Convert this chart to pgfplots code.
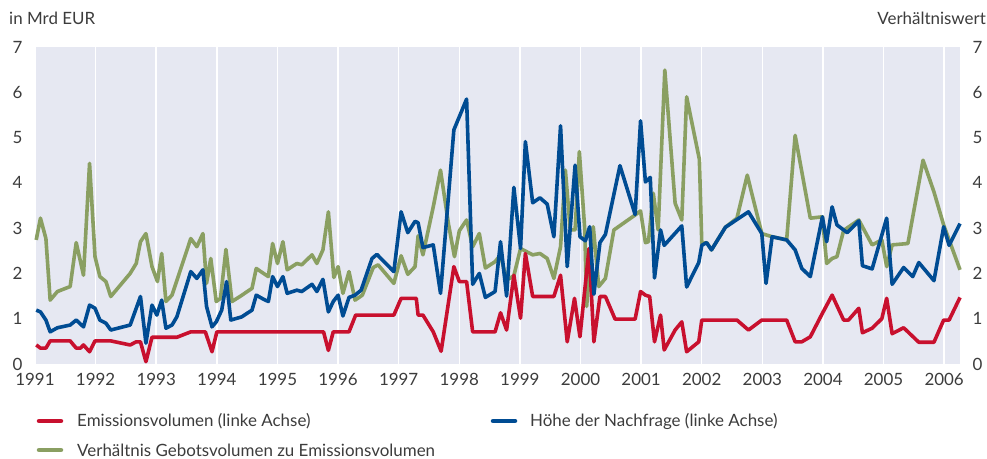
\documentclass[border=0pt]{standalone}
\usepackage{fontspec}
\setmainfont{Lato}
\usepackage{pgfplots}
\usepackage{pgfplotstable}
\pgfplotsset{compat=1.18}
\definecolor{bgc}{RGB}{230,232,242}
\definecolor{cred}{RGB}{200,16,46}
\definecolor{cblue}{RGB}{0,76,147}
\definecolor{cgreen}{RGB}{138,159,98}
\definecolor{txt}{RGB}{60,60,60}

\pgfplotstableread{
x y
1991.02 0.42
1991.09 0.35
1991.18 0.35
1991.25 0.51
1991.58 0.51
1991.68 0.35
1991.75 0.35
1991.80 0.42
1991.90 0.27
1991.99 0.51
1992.25 0.51
1992.57 0.42
1992.67 0.49
1992.74 0.49
1992.83 0.05
1992.93 0.59
1993.34 0.59
1993.57 0.71
1993.81 0.71
1993.92 0.27
1994.00 0.71
1995.76 0.71
1995.84 0.30
1995.92 0.71
1996.18 0.71
1996.29 1.08
1996.92 1.08
1997.04 1.45
1997.29 1.45
1997.32 1.08
1997.40 1.08
1997.57 0.71
1997.70 0.28
1997.91 2.15
1998.00 1.82
1998.12 1.82
1998.22 0.71
1998.59 0.71
1998.68 1.13
1998.78 0.75
1998.90 1.96
1999.01 1.01
1999.09 2.44
1999.21 1.49
1999.56 1.49
1999.67 1.96
1999.78 0.49
1999.90 1.45
1999.99 0.60
2000.14 2.55
2000.22 0.49
2000.32 1.49
2000.41 1.49
2000.57 0.99
2000.90 0.99
2000.99 1.60
2001.07 1.52
2001.14 1.49
2001.22 0.49
2001.32 1.08
2001.38 0.31
2001.56 0.75
2001.67 0.93
2001.75 0.27
2001.95 0.49
2002.00 0.97
2002.58 0.97
2002.77 0.75
2002.99 0.97
2003.40 0.97
2003.54 0.49
2003.65 0.49
2003.79 0.60
2003.99 1.12
2004.15 1.52
2004.34 0.97
2004.42 0.97
2004.59 1.23
2004.65 0.69
2004.81 0.79
2004.97 1.00
2005.05 1.45
2005.14 0.67
2005.33 0.80
2005.58 0.48
2005.83 0.48
2005.99 0.97
2006.08 0.97
2006.26 1.47
}\emission

\pgfplotstableread{
x y
1991.02 1.19
1991.09 1.15
1991.18 0.97
1991.25 0.71
1991.37 0.80
1991.58 0.86
1991.68 0.97
1991.80 0.82
1991.90 1.30
1991.99 1.23
1992.07 0.97
1992.17 0.90
1992.25 0.75
1992.57 0.86
1992.74 1.49
1992.83 0.46
1992.93 1.30
1993.01 1.08
1993.09 1.41
1993.16 0.79
1993.26 0.86
1993.34 1.04
1993.57 2.04
1993.67 1.89
1993.77 2.08
1993.83 1.27
1993.92 0.82
1993.99 0.93
1994.08 1.19
1994.16 1.82
1994.23 0.97
1994.41 1.04
1994.58 1.19
1994.65 1.52
1994.77 1.43
1994.85 1.38
1994.92 1.93
1995.00 1.71
1995.09 1.93
1995.16 1.56
1995.32 1.63
1995.40 1.60
1995.57 1.76
1995.65 1.60
1995.75 1.87
1995.84 1.15
1995.92 1.38
1996.00 1.52
1996.08 1.06
1996.18 1.47
1996.28 1.52
1996.38 1.63
1996.56 2.33
1996.64 2.42
1996.92 2.04
1997.04 3.36
1997.15 2.90
1997.27 3.15
1997.32 3.12
1997.40 2.57
1997.57 2.63
1997.69 1.56
1997.91 5.17
1998.00 5.46
1998.12 5.85
1998.22 1.76
1998.33 2.00
1998.43 1.47
1998.59 1.60
1998.68 2.70
1998.78 1.50
1998.90 3.90
1999.01 2.55
1999.09 4.91
1999.21 3.56
1999.33 3.67
1999.45 3.53
1999.56 2.81
1999.67 5.26
1999.78 2.15
1999.91 4.39
1999.99 2.81
2000.08 2.72
2000.15 3.03
2000.22 1.54
2000.32 2.68
2000.41 2.86
2000.65 4.38
2000.90 3.30
2000.99 5.37
2001.07 4.02
2001.15 4.12
2001.22 1.90
2001.32 2.96
2001.38 2.62
2001.67 3.05
2001.75 1.70
2001.95 2.24
2002.00 2.62
2002.08 2.68
2002.16 2.52
2002.39 3.02
2002.77 3.36
2002.99 2.88
2003.06 1.78
2003.16 2.81
2003.40 2.74
2003.54 2.52
2003.65 2.11
2003.79 1.93
2003.99 3.25
2004.06 2.70
2004.15 3.47
2004.23 3.07
2004.40 2.90
2004.59 3.16
2004.65 2.17
2004.81 2.10
2005.05 3.22
2005.14 1.76
2005.33 2.13
2005.48 1.93
2005.58 2.24
2005.83 1.84
2005.99 3.03
2006.08 2.62
2006.26 3.10
}\nachfrage

\pgfplotstableread{
x y
1991.02 2.74
1991.09 3.22
1991.18 2.77
1991.25 1.41
1991.37 1.60
1991.58 1.71
1991.68 2.68
1991.80 1.96
1991.90 4.43
1991.99 2.37
1992.07 1.93
1992.17 1.82
1992.25 1.49
1992.57 2.00
1992.67 2.22
1992.74 2.70
1992.83 2.88
1992.93 2.15
1993.02 1.82
1993.09 2.44
1993.16 1.38
1993.26 1.52
1993.57 2.77
1993.67 2.59
1993.77 2.88
1993.83 1.78
1993.90 2.33
1993.99 1.38
1994.06 1.45
1994.15 2.53
1994.25 1.38
1994.38 1.49
1994.58 1.67
1994.65 2.11
1994.77 2.00
1994.85 1.93
1994.92 2.66
1995.00 2.22
1995.09 2.70
1995.16 2.08
1995.32 2.22
1995.40 2.19
1995.57 2.41
1995.65 2.22
1995.75 2.52
1995.84 3.36
1995.93 1.91
1996.00 2.15
1996.08 1.56
1996.18 2.04
1996.28 1.41
1996.40 1.52
1996.58 2.13
1996.66 2.19
1996.92 1.78
1997.04 2.39
1997.15 1.98
1997.27 2.15
1997.32 2.83
1997.40 2.41
1997.57 3.47
1997.69 4.28
1997.82 3.10
1997.92 2.37
1998.00 2.94
1998.12 3.18
1998.22 2.59
1998.33 2.88
1998.43 2.12
1998.59 2.26
1998.68 2.41
1998.78 1.85
1998.90 1.95
1999.01 2.55
1999.21 2.41
1999.33 2.44
1999.45 2.33
1999.56 1.89
1999.67 2.59
1999.75 4.28
1999.83 2.96
1999.91 2.96
1999.98 4.69
2000.07 2.96
2000.10 1.27
2000.21 3.03
2000.30 1.71
2000.41 1.89
2000.55 2.96
2000.90 3.29
2000.99 3.38
2001.07 2.68
2001.12 2.70
2001.20 3.77
2001.28 2.96
2001.39 6.49
2001.56 3.55
2001.67 3.18
2001.75 5.90
2001.96 4.52
2002.00 2.66
2002.08 2.68
2002.16 2.52
2002.39 3.02
2002.58 3.22
2002.75 4.17
2002.99 2.88
2003.16 2.81
2003.40 2.74
2003.54 5.05
2003.79 3.22
2003.99 3.25
2004.06 2.22
2004.15 2.33
2004.23 2.37
2004.34 2.95
2004.59 3.18
2004.81 2.63
2004.97 2.74
2005.05 2.15
2005.14 2.63
2005.40 2.66
2005.65 4.50
2005.83 3.80
2005.99 3.07
2006.26 2.08
}\verhaeltnis

\begin{document}
\begin{tikzpicture}[x=1bp,y=1bp]
\path[use as bounding box] (0,0) rectangle (987,459);
\begin{axis}[
  at={(35bp,95bp)}, anchor=south west,
  width=925bp, height=317bp, scale only axis,
  xmin=1991, xmax=2006.26, ymin=0, ymax=7,
  axis background/.style={fill=bgc},
  axis line style={draw=none},
  tick style={draw=none},
  xtick={1991,...,2006},
  xticklabels={1991,1992,1993,1994,1995,1996,1997,1998,1999,2000,2001,2002,2003,2004,2005,2006},
  ytick={0,...,7},
  xmajorgrids,
  major grid style={white, line width=1.5bp},
  /pgf/number format/assume math mode=true,
  tick label style={font=\fontsize{17}{20}\selectfont, text=txt},
  yticklabel style={xshift=-9bp},
  xticklabel style={yshift=-6bp},
  clip=false,
]
\addplot[cgreen, line width=3.6bp, line join=round] table {\verhaeltnis};
\addplot[cred, line width=3.6bp, line join=round] table {\emission};
\addplot[cblue, line width=3.6bp, line join=round] table {\nachfrage};
\end{axis}
\begin{axis}[
  at={(35bp,95bp)}, anchor=south west,
  width=925bp, height=317bp, scale only axis,
  xmin=1991, xmax=2006.26, ymin=0, ymax=7,
  axis x line=none,
  axis y line*=right,
  y axis line style={draw=none},
  tick style={draw=none},
  ytick={0,...,7},
  /pgf/number format/assume math mode=true,
  tick label style={font=\fontsize{17}{20}\selectfont, text=txt},
  yticklabel style={xshift=9bp},
]
\addplot[draw=none] coordinates {(1991,0)};
\end{axis}
\node[anchor=west, text=txt, font=\fontsize{17}{20}\selectfont, inner sep=0pt] at (9,441) {in Mrd EUR};
\node[anchor=east, text=txt, font=\fontsize{17}{20}\selectfont, inner sep=0pt] at (986,441) {Verhältniswert};
% legend
\draw[cred, line width=4.5bp, line cap=round] (39,38) -- (61,38);
\node[anchor=west, text=txt, font=\fontsize{17}{20}\selectfont, inner sep=0pt] at (77,38) {Emissionsvolumen (linke Achse)};
\draw[cblue, line width=4.5bp, line cap=round] (493,38) -- (515,38);
\node[anchor=west, text=txt, font=\fontsize{17}{20}\selectfont, inner sep=0pt] at (530,38) {Höhe der Nachfrage (linke Achse)};
\draw[cgreen, line width=4.5bp, line cap=round] (39,9) -- (61,9);
\node[anchor=west, text=txt, font=\fontsize{17}{20}\selectfont, inner sep=0pt] at (77,9) {Verhältnis Gebotsvolumen zu Emissionsvolumen};
\end{tikzpicture}
\end{document}
